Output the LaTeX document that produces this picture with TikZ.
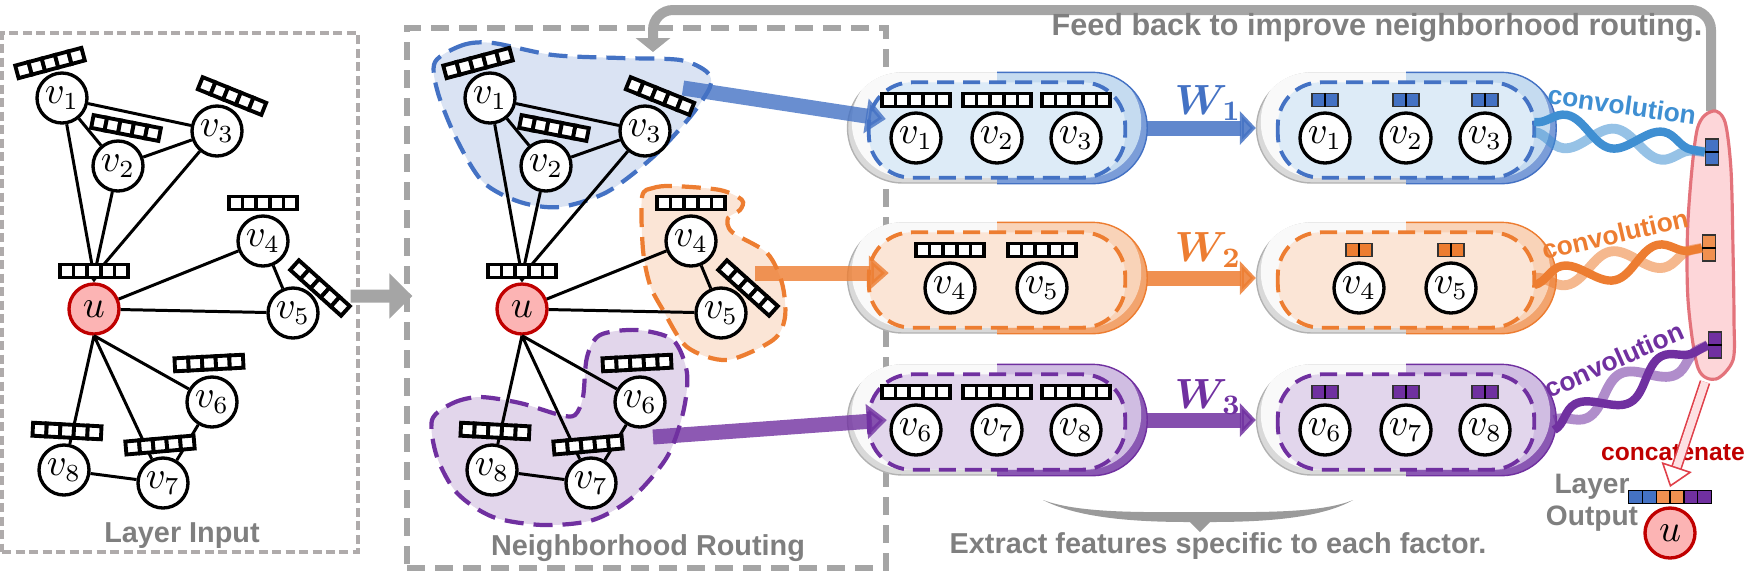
\documentclass[tikz,border=0pt]{standalone}
\usepackage{amsmath,amssymb}
\usepackage{fontspec}
\setsansfont{Liberation Sans}
\usetikzlibrary{arrows.meta, positioning, calc, decorations.pathmorphing}
\definecolor{mainblue}{HTML}{4472C4}
\definecolor{lightblue}{HTML}{DDEBF7}
\definecolor{halfblue}{HTML}{C5DBF0}
\definecolor{shadeblue}{HTML}{7B9DD8}
\definecolor{blobblue}{HTML}{DAE3F3}
\definecolor{mainorange}{HTML}{ED7D31}
\definecolor{lightorange}{HTML}{FBE5D6}
\definecolor{halforange}{HTML}{F9D3B8}
\definecolor{shadeorange}{HTML}{F2A46E}
\definecolor{bloborange}{HTML}{FBE5D6}
\definecolor{mainpurple}{HTML}{7030A0}
\definecolor{lightpurple}{HTML}{E2D6EC}
\definecolor{halfpurple}{HTML}{D0BDE2}
\definecolor{shadepurple}{HTML}{8A58B3}
\definecolor{blobpurple}{HTML}{E2D6EB}
\definecolor{convblue}{HTML}{3F8FD2}
\definecolor{labelgray}{HTML}{7F7F7F}
\definecolor{linegray}{HTML}{A5A5A5}
\definecolor{boxgray}{HTML}{AFABAB}
\definecolor{udark}{HTML}{C00000}
\definecolor{ufill}{HTML}{FCB4B4}
\definecolor{pinkfill}{HTML}{FDD6D9}
\definecolor{pinkline}{HTML}{E3737B}
\definecolor{catred}{HTML}{E0404A}
\definecolor{catpink}{HTML}{FDE0E2}
\definecolor{bracegray}{HTML}{9A9A9A}

\tikzset{
  cell/.style={line width=1.1pt, fill=white},
  featvec/.pic={
    \foreach \k in {0,...,4}
      \draw[cell] ({-34.25+13.7*\k},-6.5) rectangle ++(13.7,13);
  }
}

\begin{document}
\begin{tikzpicture}[x=0.1mm, y=-0.1mm,
  nd/.style={circle, draw, line width=0.95pt, fill=white, minimum size=5mm, inner sep=0pt, font=\fontsize{10.5}{11}\selectfont},
  ndu/.style={nd, draw=udark, fill=ufill},
  edge/.style={line width=0.85pt},
  graylabel/.style={text=labelgray, inner sep=0pt, font=\sffamily\bfseries\fontsize{8.2}{9}\selectfont},
  blob/.style={line width=1.2pt, dash pattern=on 1.9mm off 1mm},
  pill/.style={draw=gray!60, fill=gray!30, line width=0.4pt, rounded corners=5.5mm, minimum width=29.9mm, minimum height=11mm, inner sep=0pt},
  innerdash/.style={line width=1.1pt, dash pattern=on 1.7mm off 0.9mm, rounded corners=4.3mm},
  minivec/.style={draw=black!80, line width=0.4pt, minimum width=2.6mm, minimum height=1.3mm, inner sep=0pt},
  upvec/.style={draw=black!80, line width=0.4pt, minimum width=1.3mm, minimum height=2.6mm, inner sep=0pt},
  bigarrow/.style={line width=1.5mm, opacity=0.8, -{Triangle[length=2mm, width=3.4mm]}},
  warrow/.style={line width=1.5mm, opacity=0.85, -{Triangle[length=1.6mm, width=3.3mm]}},
  wlabel/.style={inner sep=0pt, font=\fontsize{12}{13}\selectfont},
  convtext/.style={inner sep=0pt, font=\sffamily\bfseries\fontsize{7.5}{8}\selectfont},
  wavea/.style={draw=#1, line width=2.4pt, decorate, decoration={snake, amplitude=3.6pt, segment length=28pt}},
  waveb/.style={draw=#1, opacity=0.55, line width=2.8pt, decorate, decoration={snake, amplitude=3.6pt, segment length=28pt, mirror}},
  grayarrow/.style={draw=linegray, line width=1mm, -{Triangle[length=1.4mm, width=3.4mm]}}
]
\useasboundingbox (0,0) rectangle (1762,587);

%% Panel boxes
\node[draw=boxgray, line width=0.9pt, dash pattern=on 0.9mm off 0.45mm, minimum width=35.6mm, minimum height=51.9mm] (inbox) at (180,292.5) {};
\node[draw=linegray, line width=1.5pt, dash pattern=on 1.8mm off 1mm, minimum width=47.9mm, minimum height=54mm] (routebox) at (646.5,298) {};
\node[graylabel, anchor=base] (inlabel) at (182,542) {Layer Input};
\node[graylabel, anchor=base] (routelabel) at (648,555) {Neighborhood Routing};

% Arrow from input to routing
\draw[grayarrow, line width=1.3mm, -{Triangle[length=2.3mm, width=4.4mm]}] ([shift={(-9,3.5)}]inbox.east) -- ([shift={(8,-2)}]routebox.west);

%% Factor blobs
\fill[blobblue] plot[smooth cycle] coordinates {(435,62) (463,45) (493,43) (553,55) (620,58) (680,60) (707,72) (710,87) (690,117) (653,157) (607,192) (560,207) (520,202) (483,182) (457,140) (438,93)};
\draw[blob, mainblue] plot[smooth cycle] coordinates {(435,62) (463,45) (493,43) (553,55) (620,58) (680,60) (707,72) (710,87) (690,117) (653,157) (607,192) (560,207) (520,202) (483,182) (457,140) (438,93)};
\fill[bloborange] plot[smooth cycle] coordinates {(642,197) (653,188) (673,186) (720,190) (742,200) (740,210) (728,218) (732,232) (767,253) (782,283) (785,317) (773,340) (727,360) (687,347) (663,310) (650,285) (643,250)};
\draw[blob, mainorange] plot[smooth cycle] coordinates {(642,197) (653,188) (673,186) (720,190) (742,200) (740,210) (728,218) (732,232) (767,253) (782,283) (785,317) (773,340) (727,360) (687,347) (663,310) (650,285) (643,250)};
\fill[blobpurple] plot[smooth cycle] coordinates {(432,420) (453,403) (480,397) (520,403) (560,415) (575,415) (583,397) (587,357) (600,335) (637,330) (673,340) (687,373) (683,413) (667,457) (633,497) (593,520) (543,525) (493,517) (457,493) (437,457)};
\draw[blob, mainpurple] plot[smooth cycle] coordinates {(432,420) (453,403) (480,397) (520,403) (560,415) (575,415) (583,397) (587,357) (600,335) (637,330) (673,340) (687,373) (683,413) (667,457) (633,497) (593,520) (543,525) (493,517) (457,493) (437,457)};

%% Graphs (layer input and routed copy)
\foreach \p/\dx in {a/0, b/428} {
\begin{scope}[shift={(\dx,0)}]
  \node[nd] (\p1) at (62,98) {$v_1$};
  \node[nd] (\p2) at (118,166) {$v_2$};
  \node[nd] (\p3) at (217,131) {$v_3$};
  \node[nd] (\p4) at (263,241) {$v_4$};
  \node[nd] (\p5) at (293,313) {$v_5$};
  \node[nd] (\p6) at (212,402) {$v_6$};
  \node[nd] (\p7) at (163,483) {$v_7$};
  \node[nd] (\p8) at (64,470) {$v_8$};
  \node[ndu] (u\p) at (94,309) {$u$};
  \coordinate (hub\p) at (94,276);
  % edges
  \draw[edge] (\p1) -- (\p2) (\p1) -- (\p3) (\p2) -- (\p3) (\p4) -- (\p5) (\p6) -- (\p7) (\p8) -- (\p7);
  \draw[edge] (\p1) -- (hub\p) (\p2) -- (hub\p) (\p3) -- (hub\p);
  \draw[edge, -{Stealth[length=2pt, width=3pt]}] (hub\p) -- (u\p);
  \draw[edge] (u\p) -- (\p4) (u\p) -- (\p5);
  \draw[edge] (u\p.south) -- (\p6) (u\p.south) -- (\p7) (u\p.south) -- (\p8);
  % feature vectors
  \pic[rotate=15] at (50,63) {featvec};
  \pic[rotate=-11] at (126,128) {featvec};
  \pic[rotate=-22] at (232,96) {featvec};
  \pic at (263,203) {featvec};
  \pic[rotate=-42] at (320,288) {featvec};
  \pic at (94,271) {featvec};
  \pic[rotate=3] at (209,363) {featvec};
  \pic[rotate=5] at (160,445) {featvec};
  \pic[rotate=-3] at (67,431) {featvec};
\end{scope}
}

%% Feed back line
\coordinate (pinktop) at (1711,111);
\coordinate (fbtip) at (653,52);
\draw[grayarrow, rounded corners=2mm] (pinktop) -- ++(0,-101) -| (fbtip);
\node[graylabel, font=\sffamily\bfseries\fontsize{8.7}{9}\selectfont, anchor=base east] (fblabel) at (1703,35) {Feed back to improve neighborhood routing.};

%% Factor channels
\foreach \r/\y/\c/\nlist in {1/128/blue/{1/-81,2/0,3/79}, 2/278/orange/{4/-47,5/45}, 3/420/purple/{6/-81,7/0,8/79}} {
  \foreach \s/\x in {L/997, R/1406} {
    \node[pill] (\s\r) at (\x,\y) {};
    \begin{scope}
      \clip[rounded corners=5.5mm] (\s\r.north west) rectangle (\s\r.south east);
      \fill[gray!5, rounded corners=5.5mm] ([shift={(5,-6)}]\s\r.north west) rectangle ([shift={(5,-6)}]\s\r.south east);
      \clip (\s\r.north) rectangle (\s\r.south east);
      \fill[shade\c] (\s\r.north) rectangle (\s\r.south east);
      \fill[half\c, rounded corners=5.5mm] ([shift={(-6,-6)}]\s\r.north west) rectangle ([shift={(-6,-6)}]\s\r.south east);
    \end{scope}
    \draw[main\c, line width=0.4pt, rounded corners=5.5mm] (\s\r.north) -- (\s\r.north east) -- (\s\r.south east) -- (\s\r.south);
    \draw[innerdash, draw=main\c, fill=light\c] ([shift={(22,10)}]\s\r.north west) rectangle ([shift={(-22,-6)}]\s\r.south east);
  }
  \foreach \n/\dx in \nlist {
    \node[nd] (l\n) at ({997+\dx},{\y+10}) {$v_{\n}$};
    \pic at ({997+\dx},{\y-28}) {featvec};
    \node[nd] (r\n) at ({1406+\dx},{\y+10}) {$v_{\n}$};
    \node[minivec, fill=main\c] (m\n) at ({1406+\dx},{\y-28}) {};
    \draw[line width=0.4pt] (m\n.north) -- (m\n.south);
  }
  \draw[warrow, main\c] (L\r.east) -- (R\r.west);
}

% W labels
\node[wlabel, text=mainblue] (w1) at (1208,103) {$\boldsymbol{W}_{\!\boldsymbol{1}}$};
\node[wlabel, text=mainorange] (w2) at (1208,250) {$\boldsymbol{W}_{\!\boldsymbol{2}}$};
\node[wlabel, text=mainpurple] (w3) at (1208,397) {$\boldsymbol{W}_{\!\boldsymbol{3}}$};

% Routed neighbours into channels
\coordinate (blobB) at (683,88);
\coordinate (blobO) at (755,273);
\coordinate (blobP) at (653,437);
\draw[bigarrow, mainblue] (blobB) -- ([shift={(39,-9)}]L1.west);
\draw[bigarrow, mainorange] (blobO) -- ([shift={(42,-5)}]L2.west);
\draw[bigarrow, mainpurple] (blobP) -- ([shift={(40,0)}]L3.west);

%% Aggregated node
\fill[pinkfill] plot[smooth cycle] coordinates {(1713,111) (1725,122) (1731,170) (1733,250) (1734,320) (1733,360) (1716,379) (1698,368) (1688,300) (1688,220) (1697,130)};
\draw[pinkline, line width=0.9pt] plot[smooth cycle] coordinates {(1713,111) (1725,122) (1731,170) (1733,250) (1734,320) (1733,360) (1716,379) (1698,368) (1688,300) (1688,220) (1697,130)};
\node[upvec, fill=mainblue] (c1) at (1712,152) {};
\node[upvec, fill=mainorange!85] (c2) at (1709,248) {};
\node[upvec, fill=mainpurple] (c3) at (1715,345) {};
\foreach \i in {1,2,3}
  \draw[line width=0.4pt] (c\i.west) -- (c\i.east);

% convolution
\draw[waveb=convblue] ([shift={(-22,4)}]R1.east) -- (c1.west);
\draw[wavea=convblue] ([shift={(-22,-6)}]R1.east) -- (c1.west);
\draw[waveb=mainorange] ([shift={(-22,0)}]R2.east) -- (c2.west);
\draw[wavea=mainorange] ([shift={(-22,7)}]R2.east) -- (c2.west);
\draw[waveb=mainpurple] ([shift={(-2,0)}]R3.east) -- (c3.west);
\draw[wavea=mainpurple] ([shift={(-2,10)}]R3.east) -- (c3.west);
\node[convtext, text=convblue, rotate=-8] (t1) at (1622,105) {convolution};
\node[convtext, text=mainorange, rotate=13] (t2) at (1615,234) {convolution};
\node[convtext, text=mainpurple, rotate=24] (t3) at (1614,360) {convolution};

%% Layer output
\node[text=udark, inner sep=0pt, font=\sffamily\bfseries\fontsize{7}{8}\selectfont, anchor=base] (catlabel) at (1673,460) {concatenate};
\coordinate (pinkbot) at (1705,382);
\coordinate (outvec) at (1670,487);
\draw[draw=catred, double=catpink, double distance=2.2pt, line width=0.45pt, -{Triangle[open, length=6pt, width=9pt]}] (pinkbot) -- (outvec);
\foreach \k/\cc in {0/mainblue, 1/mainblue, 2/mainorange!85, 3/mainorange!85, 4/mainpurple, 5/mainpurple}
  \draw[line width=0.4pt, fill=\cc] ({1628.6+13.8*\k},490.5) rectangle ++(13.8,13);
\node[ndu] (uout) at (1670,533) {$u$};
\node[graylabel, align=center, font=\sffamily\bfseries\fontsize{8}{9.1}\selectfont, anchor=base] (outlabel) at (1592,525) {Layer\\Output};

%% Brace under the channels
\fill[bracegray] (1043,500) .. controls (1080,514) and (1150,512) .. (1200,512)
  .. controls (1250,512) and (1320,514) .. (1353,500)
  .. controls (1320,519) and (1260,522) .. (1210,522) -- (1200,532) -- (1190,522)
  .. controls (1140,522) and (1080,519) .. (1043,500) -- cycle;
\node[graylabel, anchor=base] (exlabel) at (1218,553) {Extract features specific to each factor.};

\end{tikzpicture}
\end{document}
